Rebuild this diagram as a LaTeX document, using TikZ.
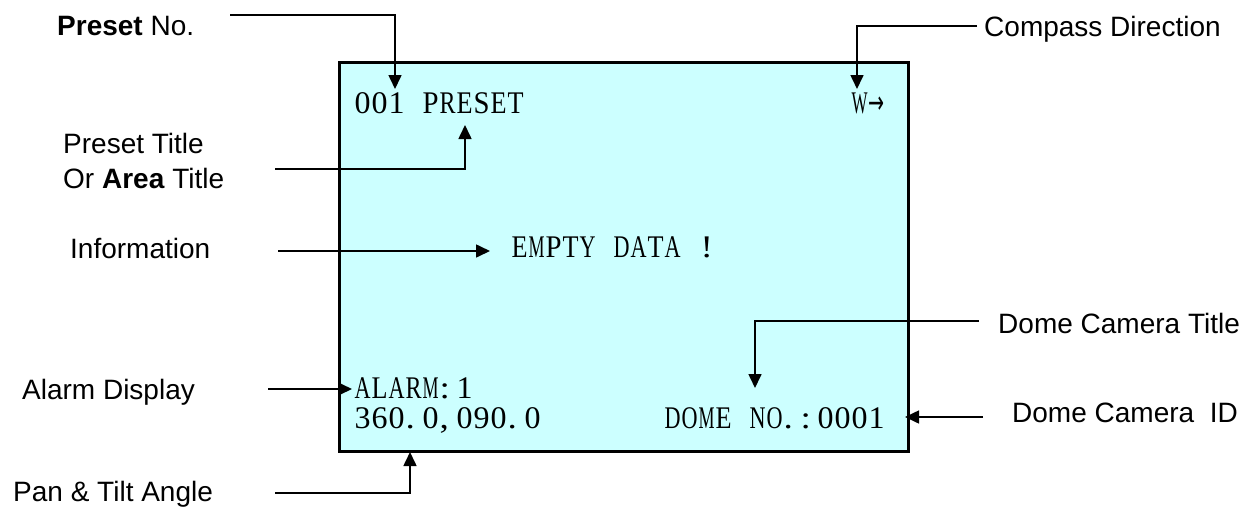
\documentclass[tikz,border=0pt]{standalone}
\usepackage{fontspec}
\usepackage{graphicx}
\usetikzlibrary{arrows.meta}
\newfontfamily\lblfont{Liberation Sans}
\newfontfamily\osdfont{Liberation Serif}
\newfontfamily\arrowfont{DejaVu Sans}
\definecolor{screencyan}{RGB}{204,255,255}
\newsavebox\osdcellbox
\newif\ifosdleft
\def\osddot{.}\def\osdcomma{,}\def\osdcolon{:}
\newcommand\osdcell[1]{%
  \sbox\osdcellbox{\scalebox{1.18}[1]{#1}}%
  \ifdim\wd\osdcellbox>16pt \sbox\osdcellbox{\resizebox{16pt}{\height}{\usebox\osdcellbox}}\fi
  \def\osdtok{#1}\osdleftfalse
  \ifx\osdtok\osddot\osdlefttrue\fi
  \ifx\osdtok\osdcomma\osdlefttrue\fi
  \ifx\osdtok\osdcolon\osdlefttrue\fi
  \ifosdleft\makebox[17pt][l]{\hspace{0.5pt}\usebox\osdcellbox}\else\makebox[17pt][c]{\usebox\osdcellbox}\fi}
\def\osdloop#1{\ifx#1\relax\else\osdcell{#1}\expandafter\osdloop\fi}
\newcommand\osd[1]{\osdloop#1\relax}
\tikzset{
  lbl/.style={anchor=base west, inner sep=0pt, font=\lblfont\fontsize{28}{34}\selectfont},
  osdtext/.style={anchor=base west, inner sep=0pt, font=\osdfont\fontsize{31.5}{31.5}\selectfont},
  screenbox/.style={draw=black, line width=3pt, fill=screencyan, anchor=north west, inner sep=0pt},
  conn/.style={draw=black, line width=1.6pt, -{Triangle[length=14pt,width=13pt]}}
}
\begin{document}
\begin{tikzpicture}[x=1pt,y=-1pt]
\useasboundingbox (0,0) rectangle (1257,509);
% screen
\node[screenbox, minimum width=569pt, minimum height=389pt] (screen) at (338,61) {};
% on-screen texts
\node[osdtext] (preset) at (354,113) {\osd{001~PRESET}};
\node[osdtext] (compass) at (851,113) {\osd{W{\arrowfont →}}};
\node[osdtext] (empty) at (511,257) {\osd{EMPTY~DATA~!}};
\node[osdtext] (alarm) at (354,398) {\osd{ALARM:1}};
\node[osdtext] (angle) at (354,428) {\osd{360.0,090.0}};
\node[osdtext] (domeno) at (664,428) {\osd{DOME~NO.:0001}};
% labels
\node[lbl] (lPresetNo) at (57,35) {\textbf{Preset} No.};
\node[lbl] (lTitleA) at (63,153) {Preset Title};
\node[lbl] (lTitleB) at (63,188) {Or \textbf{Area} Title};
\node[lbl] (lInfo) at (70,258) {Information};
\node[lbl] (lAlarm) at (22,399) {Alarm Display};
\node[lbl] (lPan) at (13,501) {Pan \& Tilt Angle};
\node[lbl] (lCompass) at (984,36) {Compass Direction};
\node[lbl] (lDomeTitle) at (998,333) {Dome Camera Title};
\node[lbl] (lDomeID) at (1012,422) {Dome Camera\ \ ID};
% connector ends
\coordinate (pnS) at (230,15);  \coordinate (pnT) at (395,89);
\coordinate (ptS) at (275,169); \coordinate (ptT) at (465,125);
\coordinate (inS) at (278,251); \coordinate (inT) at (490,251);
\coordinate (cdS) at (977,26);  \coordinate (cdT) at (857,89);
\coordinate (dtS) at (979,321); \coordinate (dtT) at (755,388);
\coordinate (diS) at (983,417); \coordinate (diT) at (905,417);
\coordinate (adS) at (268,389); \coordinate (adT) at (352,389);
\coordinate (paS) at (275,493); \coordinate (paT) at (410,452);
% connectors
\draw[conn] (pnS) -| (pnT);
\draw[conn] (ptS) -| (ptT);
\draw[conn] (inS) -- (inT);
\draw[conn] (cdS) -| (cdT);
\draw[conn] (dtS) -| (dtT);
\draw[conn] (diS) -- (diT);
\draw[conn] (adS) -- (adT);
\draw[conn] (paS) -| (paT);
\end{tikzpicture}
\end{document}
